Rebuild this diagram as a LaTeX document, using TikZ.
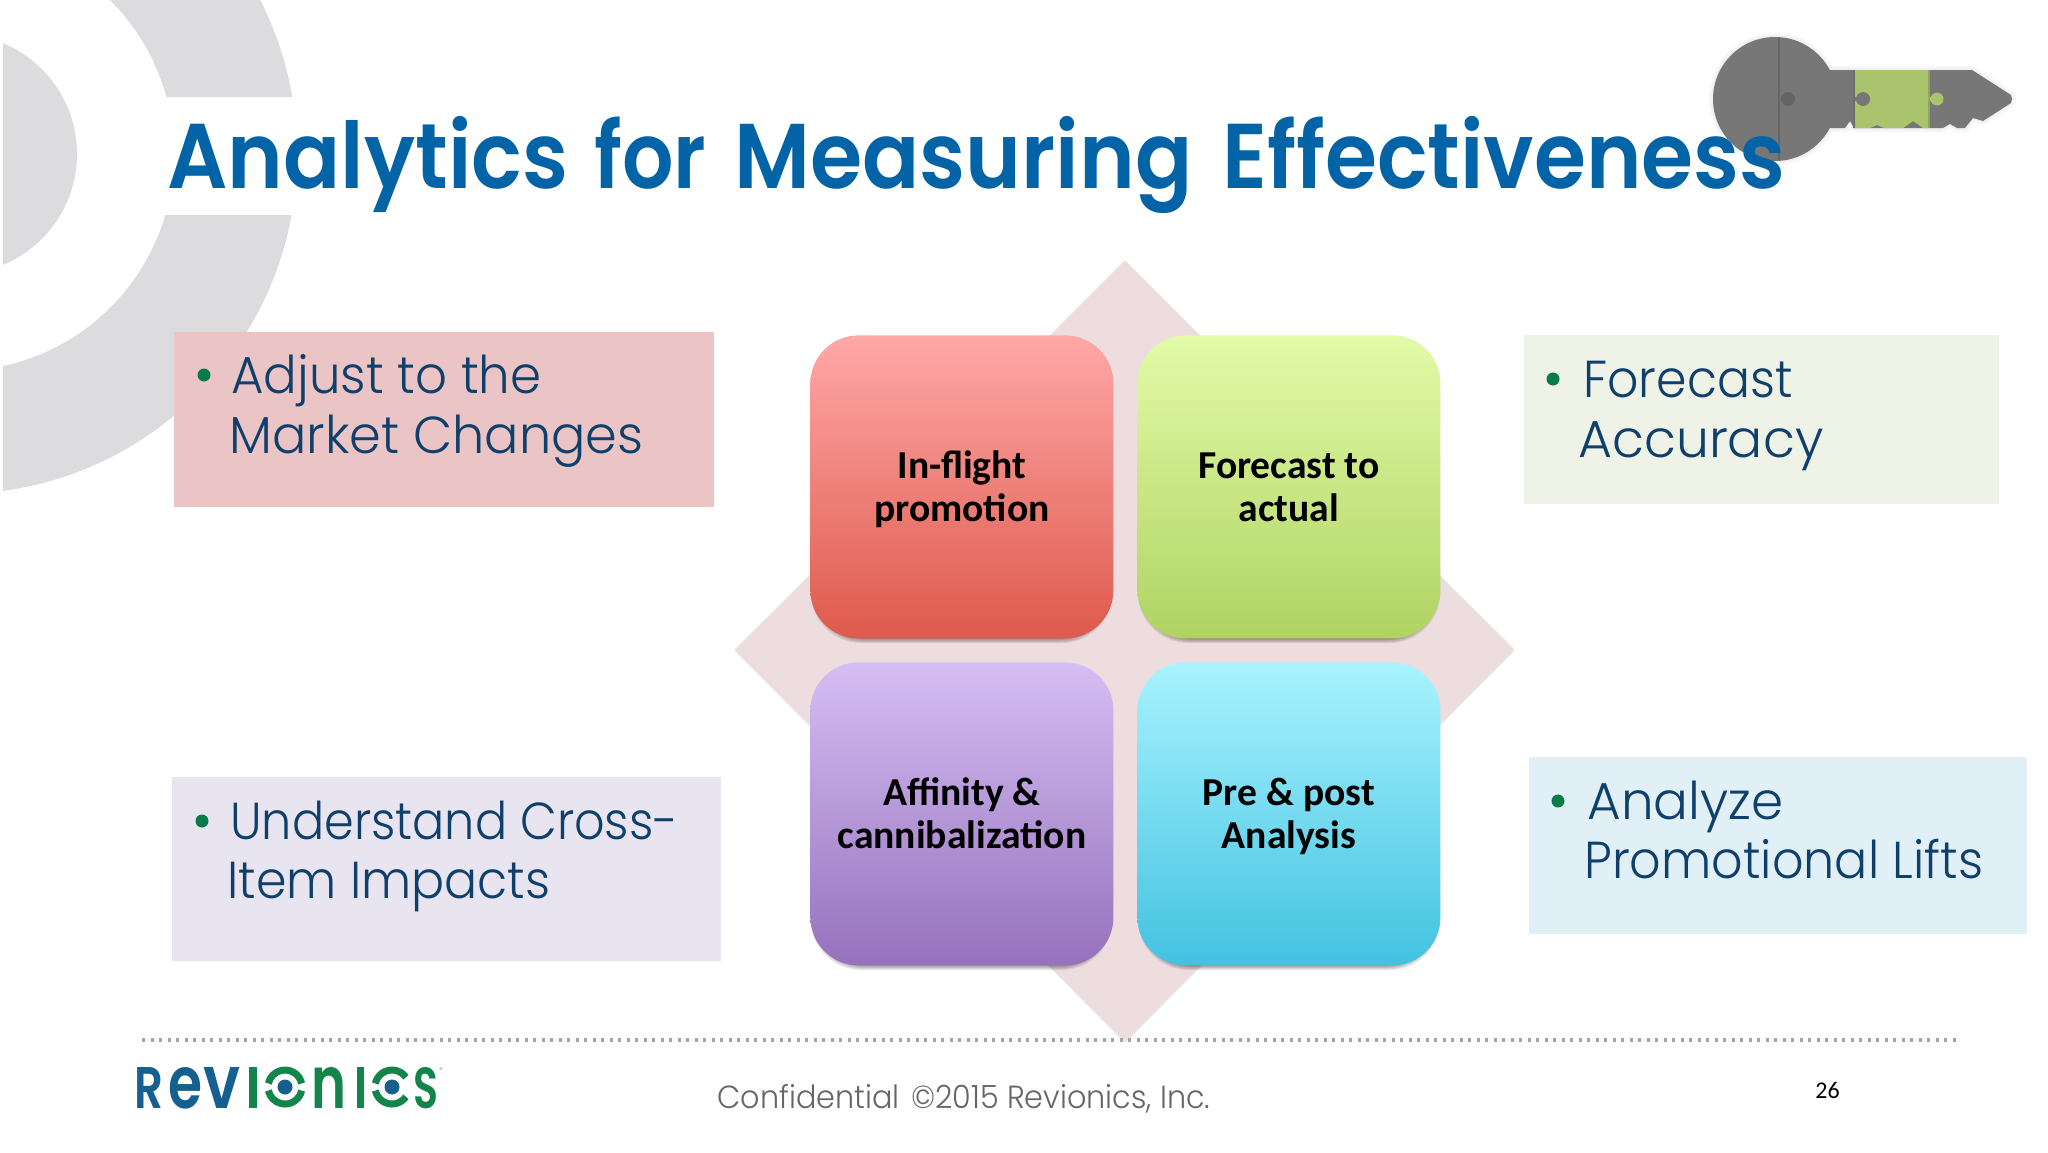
\documentclass[tikz,border=0pt]{standalone}
\usepackage{fontspec}
\usepackage{graphicx}
\setmainfont{Carlito}
\newfontfamily\poplight{Poppins Light}
\newfontfamily\popsemi{Poppins SemiBold}
\definecolor{navytext}{HTML}{0F3F6B}
\definecolor{bulletgreen}{HTML}{0B7A4B}
\definecolor{titleblue}{HTML}{0263A6}
\definecolor{ringgray}{HTML}{DCDCDE}
\definecolor{diamondpink}{HTML}{EDDDDE}
\definecolor{keygray}{HTML}{777777}
\definecolor{keygreen}{HTML}{A9C46C}
\definecolor{logoblue}{HTML}{15608F}
\definecolor{logogreen}{HTML}{12864A}
\definecolor{panelred}{HTML}{EBC5C6}
\definecolor{panelgreen}{HTML}{EFF2E6}
\definecolor{panelpurple}{HTML}{E8E5F0}
\definecolor{panelblue}{HTML}{E1F0F7}
\definecolor{tileredtop}{HTML}{FFA8A8}
\definecolor{tileredbot}{HTML}{DE5A4C}
\definecolor{tilegreentop}{HTML}{E2FBA8}
\definecolor{tilegreenbot}{HTML}{B0D362}
\definecolor{tilepurpletop}{HTML}{D5BEF4}
\definecolor{tilepurplebot}{HTML}{9672BC}
\definecolor{tilebluetop}{HTML}{A9F3FF}
\definecolor{tilebluebot}{HTML}{42C2E0}
\definecolor{dotgray}{HTML}{A4A4A4}
\definecolor{footgray}{HTML}{666666}
\newsavebox\fitbox
\newcommand\fitw[2]{\sbox\fitbox{#2}\pgfmathsetmacro\fitr{#1/\the\wd\fitbox}\scalebox{\fitr}[1]{\usebox\fitbox}}
\newcommand\tilelines[2]{\rule{0pt}{19.45pt}#1\\\rule[-6.45pt]{0pt}{6.45pt}#2}
\tikzset{
  panel/.style={draw=none,inner sep=0pt,anchor=north west},
  bullettext/.style={anchor=base west,inner sep=0pt,text=navytext,font=\poplight\fontsize{26}{30}\selectfont},
  bulletdot/.style={circle,fill=bulletgreen,inner sep=0pt,minimum size=6.5pt},
  titleword/.style={anchor=base west,inner sep=0pt,text=titleblue,font=\popsemi\fontsize{46}{50}\selectfont},
  tile/.style={rounded corners=24pt,inner sep=0pt,minimum width=151.5pt,minimum height=151.5pt,align=center,text=black,anchor=north west,
    font=\bfseries\fontsize{19.8}{21.5}\selectfont},
  logol/.style={inner sep=0pt,anchor=base west,font=\popsemi\fontsize{30}{30}\selectfont},
}
\newcommand\tileshadow[4]{%
  \foreach \g in {4,3,2,1,0}{\fill[black,opacity=.085,rounded corners=25pt]
    (#1+5-\g,#2+8) rectangle (#3-5+\g,#4+1+\g);}}
\begin{document}
\begin{tikzpicture}[x=0.5pt,y=-0.5pt]
\useasboundingbox (0,0) rectangle (2048,1152);
\fill[white] (0,0) rectangle (2048,1152);
% background emblem
\begin{scope}
  \clip (3,0) rectangle (300,97) (3,215) rectangle (300,500);
  \fill[ringgray,even odd rule] (-43,154) circle (340) (-43,154) circle (217);
\end{scope}
\begin{scope}
  \clip (3,0) rectangle (200,400);
  \fill[ringgray] (-43,154) circle (120);
\end{scope}
% key
\def\keyoutline{(1775,99) circle (62) (1800,70) -- (1972,70) -- (2011,95) -- (2012,99) -- (2011,103) -- (1983,121) -- (1973,118) -- (1965,128) -- (1957,128) -- (1950,124) -- (1943,128) -- (1854,128) -- (1850,121) -- (1845,128) -- (1800,128) -- cycle}
\foreach \w in {9,6,3}{\draw[black,opacity=.02,line width=\w*0.5pt,line join=round] \keyoutline;}
\fill[keygray] \keyoutline;
\fill[keygreen] (1854,70) -- (1929,70) -- (1929,128) -- (1923,128) -- (1913,121) -- (1903,128) -- (1884,128) -- (1877,125) -- (1870,128) -- (1854,128) -- cycle;
\fill[keygreen] (1937,99) circle (6.5);
\fill[keygreen] (1927,97) rectangle (1934,101);
\fill[keygray] (1863,99) circle (7);
\fill[keygray] (1854,97) rectangle (1860,101);
\fill[keygray!85!black] (1788,99) circle (7);
\draw[keygray!85!black,line width=1pt] (1779,38) -- (1779,160);
\draw[keygray!92!black,line width=1pt] (1854,70) -- (1854,128);
\draw[keygreen!85!black,line width=1pt] (1929,70) -- (1929,128);
% title
\node[titleword] (title1) at (167,188) {\fitw{200.5}{Analytics}};
\node[titleword] (title2) at (594,188) {\fitw{56}{for}};
\node[titleword] (title3) at (734,188) {\fitw{229}{Measuring}};
\node[titleword] (title4) at (1222,188) {\fitw{281.5}{Effectiveness}};
% panels
\node[panel,fill=panelred,minimum width=270pt,minimum height=87.5pt] (pRed) at (174,332) {};
\node[panel,fill=panelgreen,minimum width=237.5pt,minimum height=84.5pt] (pGreen) at (1524,335) {};
\node[panel,fill=panelpurple,minimum width=274.5pt,minimum height=92pt] (pPurple) at (172,777) {};
\node[panel,fill=panelblue,minimum width=249pt,minimum height=88.5pt] (pBlue) at (1529,757) {};
% panel text
\node[bulletdot] (b1) at (204,375) {};
\node[bullettext] (t1a) at (231,393) {\fitw{155}{Adjust to the}};
\node[bullettext] (t1b) at (229,453) {\fitw{207}{Market Changes}};
\node[bulletdot] (b2) at (1553,379) {};
\node[bullettext] (t2a) at (1583,397) {\fitw{104.5}{Forecast}};
\node[bullettext] (t2b) at (1578,457) {\fitw{122.5}{Accuracy}};
\node[bulletdot] (b3) at (202,821) {};
\node[bullettext] (t3a) at (230,839) {\fitw{224}{Understand Cross-}};
\node[bullettext] (t3b) at (227,898) {\fitw{161.5}{Item Impacts}};
\node[bulletdot] (b4) at (1558,801) {};
\node[bullettext] (t4a) at (1587,819) {\fitw{98}{Analyze}};
\node[bullettext] (t4b) at (1584,878) {\fitw{199.5}{Promotional Lifts}};
% diamond
\foreach \g in {3,2,1}{\fill[black,opacity=.035,rounded corners=1pt] (1125,260+\g) -- (1513+\g,650) -- (1125,1041+\g) -- (736-\g,650) -- cycle;}
\fill[diamondpink,rounded corners=1pt] (1125,260) -- (1513,650) -- (1125,1041) -- (736,650) -- cycle;
% tiles
\tileshadow{810}{335}{1113}{638}
\tileshadow{1137}{335}{1441}{638}
\tileshadow{810}{662}{1113}{965}
\tileshadow{1137}{662}{1441}{965}
\node[tile,top color=tileredtop,bottom color=tileredbot] (tRed) at (810,335) {\tilelines{In-flight}{promotion}};
\node[tile,top color=tilegreentop,bottom color=tilegreenbot] (tGreen) at (1137,335) {\tilelines{Forecast to}{actual}};
\node[tile,top color=tilepurpletop,bottom color=tilepurplebot] (tPurple) at (810,662) {\tilelines{Affinity \&}{cannibalization}};
\node[tile,top color=tilebluetop,bottom color=tilebluebot] (tBlue) at (1137,662) {\tilelines{Pre \& post}{Analysis}};
% dotted rule
\coordinate (dotL) at (142,1040);
\coordinate (dotR) at (1960,1040);
\draw[dotgray,line width=1.6pt,dash pattern=on 1.7pt off 2.55pt] (dotL) -- (dotR);
% logo
\node[logol,text=logoblue] (lR) at (134,1108) {\resizebox{14.5pt}{20.5pt}{R}};
\node[logol,text=logoblue] (le) at (168,1108) {\resizebox{17pt}{20.5pt}{e}};
\node[logol,text=logoblue] (lv) at (203,1108) {\resizebox{18.5pt}{20.5pt}{v}};
\fill[logogreen] (249,1067) rectangle (257,1108);
\draw[logogreen,line width=3.5pt] (285,1087) ++(12:17) arc[start angle=12,end angle=168,radius=17];
\draw[logogreen,line width=3.5pt] (285,1087) ++(-12:17) arc[start angle=-12,end angle=-168,radius=17];
\fill[logoblue] (285,1087) circle (7.5);
\node[logol,text=logogreen] (ln) at (311,1108) {\resizebox{17.5pt}{20.5pt}{n}};
\fill[logogreen] (357,1067) rectangle (364,1108);
\draw[logogreen,line width=3.5pt] (392,1087) ++(35:17) arc[start angle=35,end angle=168,radius=17];
\draw[logogreen,line width=3.5pt] (392,1087) ++(-35:17) arc[start angle=-35,end angle=-168,radius=17];
\fill[logoblue] (392,1087) circle (7.5);
\node[logol,text=logogreen] (lS) at (413,1108) {\resizebox{12.5pt}{20.5pt}{S}};
\node[inner sep=0pt,text=logoblue!60,font=\fontsize{5}{5}\selectfont] (lreg) at (442,1071) {®};
% footer
\node[anchor=base west,inner sep=0pt,text=footgray,font=\poplight\fontsize{16}{18}\selectfont] (foot) at (717,1108) {\fitw{246.5}{Confidential\ \ \kern-2.6pt©2015 Revionics, Inc.}};
\node[anchor=base west,inner sep=0pt,text=black,font=\fontsize{12}{14}\selectfont] (pageno) at (1815,1098) {26};
\end{tikzpicture}
\end{document}
